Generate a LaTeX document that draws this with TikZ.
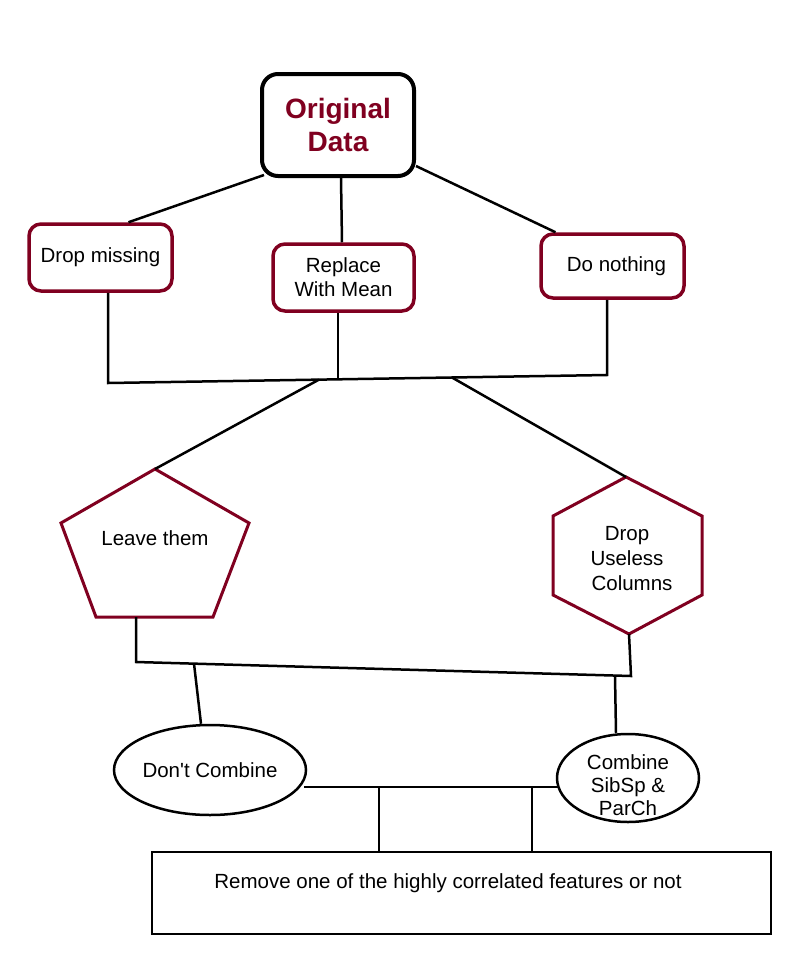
\documentclass[tikz,border=0pt]{standalone}
\usepackage{fontspec}
\setmainfont{Liberation Sans}
\usetikzlibrary{shapes.geometric}
\definecolor{dred}{RGB}{128,0,32}
\begin{document}
\begin{tikzpicture}[x=1pt,y=-1pt,
  conn/.style={line width=2.5pt, black},
  txt/.style={font=\fontsize{20.5}{24}\selectfont, align=center, inner sep=0pt},
  redbox/.style={txt, draw=dred, line width=3.5pt, rounded corners=12pt},
  redpoly/.style={draw=dred, line width=3pt, line join=miter},
  oval/.style={txt, draw=black, line width=2.5pt, ellipse, inner sep=0pt}
]
\useasboundingbox (0,0) rectangle (808,954);
\fill[white] (0,0) rectangle (808,954);

% top box
\node[draw=black, line width=4pt, rounded corners=16pt, minimum width=152pt, minimum height=102pt,
  font=\fontsize{28}{33}\selectfont\bfseries, text=dred, align=center, inner sep=0pt]
  (orig) at (338,125) {Original\\Data};

\node[redbox, minimum width=143pt, minimum height=67pt] (drop) at (100.5,257.5) {Drop missing};
\node[redbox, minimum width=141pt, minimum height=67pt] (rep) at (343.5,277.5) {Replace\\With Mean};
\node[redbox, minimum width=143pt, minimum height=64pt] (nothing) at (612.5,266) {\hspace{8pt}Do nothing};

\draw[conn] ([shift={(4,-3)}]orig.south west) -- ([xshift=28pt]drop.north);
\draw[conn] ([xshift=3pt]orig.south) -- ([xshift=-1.5pt]rep.north);
\draw[conn] ([shift={(0,-12)}]orig.south east) -- ([xshift=-57pt]nothing.north);

% first junction
\coordinate (jL) at (108,383);
\coordinate (jR) at (607,375);
\coordinate (jM) at (338,379.3);
\coordinate (jA) at (319,379.6);
\coordinate (jB) at (452,377.5);
\draw[conn] ([xshift=7.5pt]drop.south) -- (jL) -- (jR) -- ([xshift=-5.5pt]nothing.south);
\draw[conn] ([xshift=-5.5pt]rep.south) -- (jM);

% pentagon
\coordinate (p1) at (155,469);
\coordinate (p2) at (249,523);
\coordinate (p3) at (213,617);
\coordinate (p4) at (96,617);
\coordinate (p5) at (61,523);
\draw[redpoly] (p1) -- (p2) -- (p3) -- (p4) -- (p5) -- cycle;
\node[txt] (leave) at (155,538) {Leave them};

% hexagon
\coordinate (h1) at (626,477);
\coordinate (h2) at (702,516);
\coordinate (h3) at (702,595);
\coordinate (h4) at (629,634);
\coordinate (h5) at (553,595);
\coordinate (h6) at (553,516);
\draw[redpoly] (h1) -- (h2) -- (h3) -- (h4) -- (h5) -- (h6) -- cycle;
\node[txt, font=\fontsize{20.5}{25}\selectfont] (useless) at (627,559) {Drop\\Useless\\\hspace{10pt}Columns};

\draw[conn] (jA) -- (p1);
\draw[conn] (jB) -- (h1);

% second junction
\coordinate (pb) at (136,617);
\coordinate (kL) at (136,662);
\coordinate (kR) at (631,676);
\coordinate (kA) at (194,663.6);
\coordinate (kB) at (615,675.5);
\draw[conn] (pb) -- (kL) -- (kR) -- (h4);

% ellipses
\node[oval, minimum width=192pt, minimum height=90pt] (dc) at (210,770) {Don\textquotesingle t Combine};
\node[oval, minimum width=142pt, minimum height=88pt] (comb) at (628,778) {};
\node[txt, font=\fontsize{20.5}{23}\selectfont] (combt) at (628,785) {Combine\\SibSp \&\\ParCh};

\draw[conn] (kA) -- ([xshift=-9pt]dc.north);
\draw[conn] (kB) -- ([xshift=-12pt]comb.north);

% bottom box
\node[draw=black, line width=2.5pt, minimum width=619pt, minimum height=82pt, inner sep=0pt] (rm) at (461.5,893) {};
\node[txt] (rmt) at (448,883) {Remove one of the highly correlated features or not};

\coordinate (mL) at (304,787);
\coordinate (mR) at (558,787);
\coordinate (mA) at (379,787);
\coordinate (mB) at (532,787);
\draw[conn] (mL) -- (mR);
\draw[conn] (mA) -- (mA |- rm.north);
\draw[conn] (mB) -- (mB |- rm.north);
\end{tikzpicture}
\end{document}
